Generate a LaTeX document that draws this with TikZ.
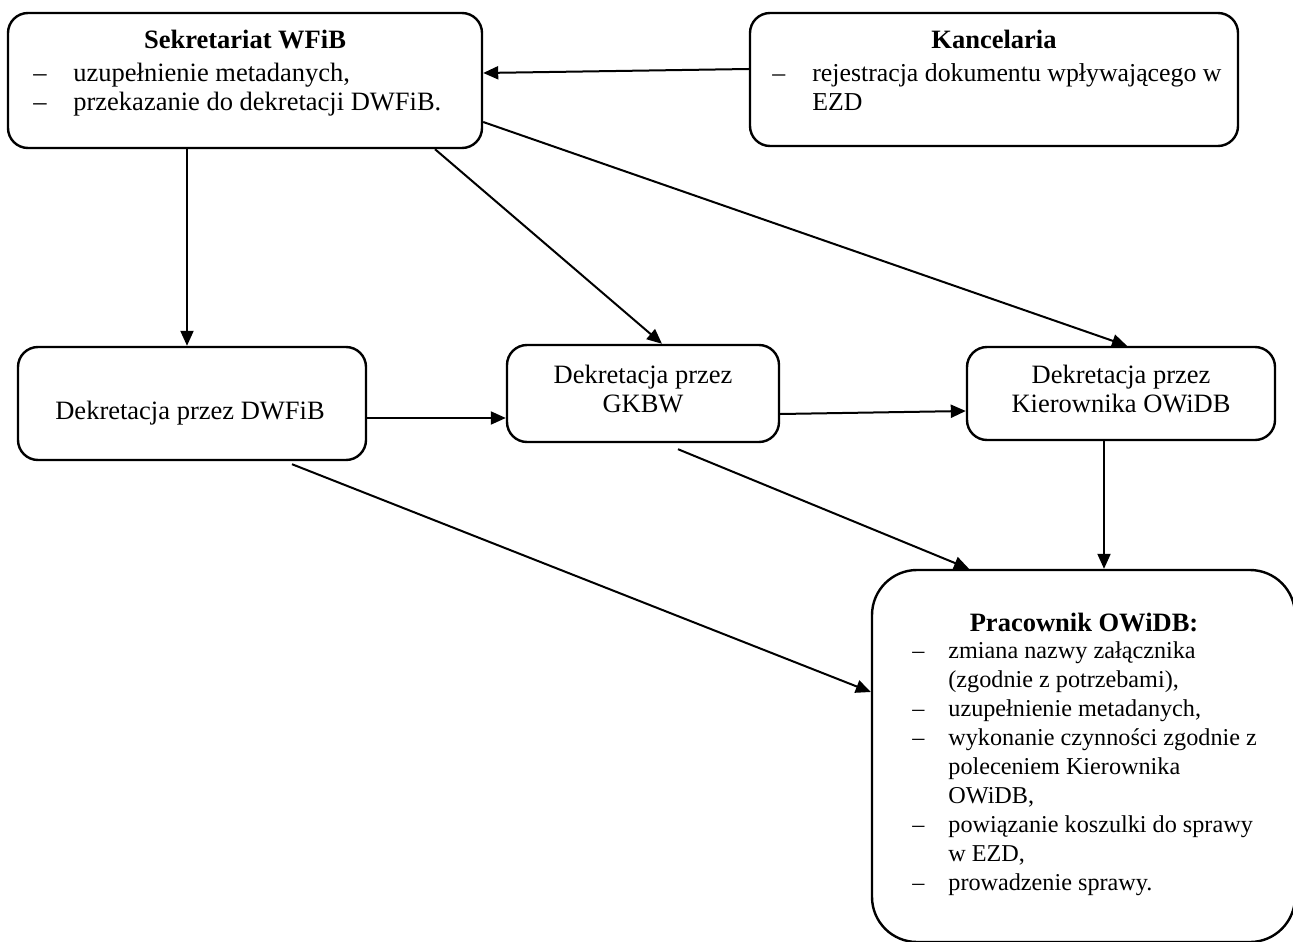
\documentclass[tikz,border=0pt]{standalone}
\usepackage{fontspec}
\setmainfont{Liberation Serif}
\usetikzlibrary{arrows.meta,calc}
\newcommand\boxfont{\fontsize{13.25}{14.5}\selectfont}
\newcommand\listfont{\fontsize{12.9}{14.5}\selectfont}
\newcommand\smallfont{\fontsize{12.1}{14.5}\selectfont}
\begin{document}
\begin{tikzpicture}[x=0.5pt,y=-0.5pt,
  box/.style={draw, line width=1.2pt, rounded corners=10pt, inner sep=0pt},
  txt/.style={inner sep=0pt, align=center, font=\boxfont},
  arr/.style={line width=1pt, -{Triangle[length=7.5pt,width=6.5pt]}},
  ttl/.style={anchor=base, inner sep=0pt, font=\boxfont\bfseries},
  lst/.style={anchor=base west, inner sep=0pt}]
\useasboundingbox (0,0) rectangle (1293,941);
\clip (0,0) rectangle (1293,941);

% boxes
\node[box, minimum width=237pt, minimum height=67.5pt] (sek) at (245,80.5) {};
\node[box, minimum width=244pt, minimum height=66.5pt] (kan) at (994,79.5) {};
\node[box, minimum width=174pt, minimum height=56.5pt] (dwf) at (192,403.5) {};
\node[box, minimum width=136pt, minimum height=48.5pt] (gkb) at (643,393.5) {};
\node[box, minimum width=154pt, minimum height=46.5pt] (kie) at (1121,393.5) {};
\node[box, rounded corners=22.5pt, minimum width=211.5pt, minimum height=186pt]
  (pra) at (1083.5,756) {};

% box contents
\node[ttl] (sekT) at (245,49) {Sekretariat WFiB};
\node[lst, font=\boxfont] (sekL) at (33,82) {\begin{tabular}[t]{@{}p{20pt}@{}l@{}}
  –&uzupełnienie metadanych,\\
  –&przekazanie do dekretacji DWFiB.\end{tabular}};
\node[ttl] (kanT) at (994,49) {Kancelaria};
\node[lst, font=\listfont] (kanL) at (772,82) {\begin{tabular}[t]{@{}p{20pt}@{}l@{}}
  –&rejestracja dokumentu wpływającego w\\
  &EZD\end{tabular}};
\node[txt] (dwfT) at (190,413) {Dekretacja przez DWFiB};
\node[txt] (gkbT) at (643,389) {Dekretacja przez\\GKBW};
\node[txt] (kieT) at (1121,389) {Dekretacja przez\\Kierownika OWiDB};
\node[ttl] (praT) at (1084,631) {Pracownik OWiDB:};
\node[lst, font=\smallfont] (praL) at (912,658) {\begin{tabular}[t]{@{}p{18pt}@{}l@{}}
  –&zmiana nazwy załącznika\\
  &(zgodnie z potrzebami),\\
  –&uzupełnienie metadanych,\\
  –&wykonanie czynności zgodnie z\\
  &poleceniem Kierownika\\
  &OWiDB,\\
  –&powiązanie koszulki do sprawy\\
  &w EZD,\\
  –&prowadzenie sprawy.\end{tabular}};

% connectors
\draw[arr] (kan.west |- 0,69) -- (sek.east |- 0,73);
\draw[arr] (sek.south -| 187,0) -- (dwf.north -| 187,0);
\draw[arr] (sek.south -| 435,0) -- (gkb.north -| 662,0);
\draw[arr] (sek.east |- 0,122) -- (kie.north -| 1127,0);
\draw[arr] (dwf.east |- 0,418) -- (gkb.west |- 0,418);
\draw[arr] (gkb.east |- 0,414) -- (kie.west |- 0,411);
\draw[arr] ($(gkb.south -| 678,0)+(0,6)$) -- (pra.north -| 969,0);
\draw[arr] (kie.south -| 1104,0) -- (pra.north -| 1104,0);
\draw[arr] ($(dwf.south -| 292,0)+(0,3)$) -- (pra.west |- 0,692);
\end{tikzpicture}
\end{document}
